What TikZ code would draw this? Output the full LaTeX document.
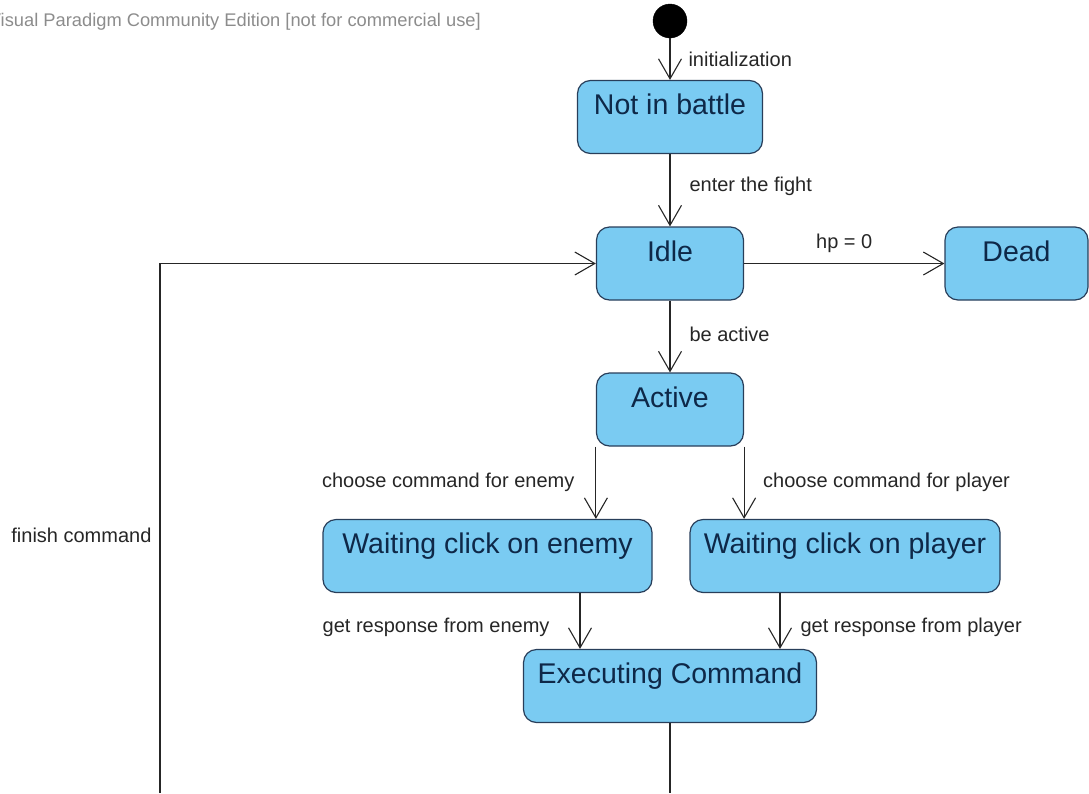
\documentclass[tikz,border=0pt]{standalone}
\usepackage{fontspec}
\setmainfont{Liberation Sans}
\usetikzlibrary{arrows.meta}
\definecolor{statefill}{RGB}{122,203,242}
\definecolor{stateline}{RGB}{40,62,90}
\definecolor{statetext}{RGB}{14,40,72}
\definecolor{wmgray}{RGB}{140,140,140}

\begin{document}
\begin{tikzpicture}[x=1pt, y=-1pt,
    state/.style={draw=stateline, fill=statefill, line width=1.2pt, rounded corners=13pt,
                  inner sep=0pt, minimum height=73pt, text height=34pt, text depth=39pt,
                  text=statetext, font=\fontsize{28.5}{30}\selectfont},
    trans/.style={draw=black!85, line width=1.1pt,
                  -{Straight Barb[length=20pt, width=23pt, line width=1.1pt]}},
    lbl/.style={inner sep=0pt, text=black!85, font=\fontsize{20}{22}\selectfont}]
    \useasboundingbox (0,0) rectangle (1089,793);
    \clip (0,0) rectangle (1089,793);
    % watermark
    \node[anchor=base east, inner sep=0pt, text=wmgray, font=\fontsize{18.3}{20}\selectfont] (wm)
        at (481,26) {Visual Paradigm Community Edition [not for commercial use]};

    % nodes: start notbattle idle dead active
    \node[draw, circle, fill=black, minimum size=34pt, inner sep=0pt] (start) at (670, 21) {};
    \node[state, minimum width=185pt] (notbattle) at (670, 117) {Not in battle};
    \node[state, minimum width=147pt] (idle) at (670, 263.5) {Idle};
    \node[state, minimum width=143pt] (dead) at (1016.5, 263.5) {Dead};
    \node[state, minimum width=147pt] (active) at (670, 409.5) {Active};
    % nodes: waitenemy waitplayer executing
    \node[state, minimum width=329pt] (waitenemy) at (487.5, 556) {Waiting click on enemy};
    \node[state, minimum width=310pt] (waitplayer) at (845, 556) {Waiting click on player};
    \node[state, minimum width=293pt] (executing) at (670, 686) {Executing Command};
    % free ends at the lower border
    \coordinate (exitbot) at (670, 793);
    \coordinate (loopbot) at (160, 793);

    % edges: start-notbattle, notbattle-idle, idle-dead, idle-active
    \draw[trans] (start) -- node[lbl, pos=0.5, right=18pt] {initialization} (notbattle);
    \draw[trans] (notbattle) -- node[lbl, pos=0.45, right=19pt] {enter the fight} (idle);
    \draw[trans] (idle) -- node[lbl, midway, yshift=20.5pt] {hp = 0} (dead);
    \draw[trans] (idle) -- node[lbl, pos=0.47, right=19pt] {be active} (active);
    % edges: active-waitenemy, active-waitplayer
    \draw[trans] (active.south west) -- node[lbl, pos=0.5, left=21pt] {choose command for enemy}
                 (active.south west |- waitenemy.north);
    \draw[trans] (active.south east) -- node[lbl, pos=0.5, right=18.5pt] {choose command for player}
                 (active.south east |- waitplayer.north);
    % edges: waitenemy-executing, waitplayer-executing
    \draw[trans] ([xshift=92.5pt]waitenemy.south) -- node[lbl, pos=0.61, left=30pt] {get response from enemy}
                 ([xshift=92.5pt]waitenemy.south |- executing.north);
    \draw[trans] ([xshift=-65pt]waitplayer.south) -- node[lbl, pos=0.61, right=20pt] {get response from player}
                 ([xshift=-65pt]waitplayer.south |- executing.north);
    % edges: executing out, finish command back to idle
    \draw[draw=black!85, line width=1.1pt] (executing) -- (exitbot);
    \draw[trans] (loopbot) |- node[lbl, pos=0.243, left=8pt] {finish command} (idle);
\end{tikzpicture}
\end{document}
